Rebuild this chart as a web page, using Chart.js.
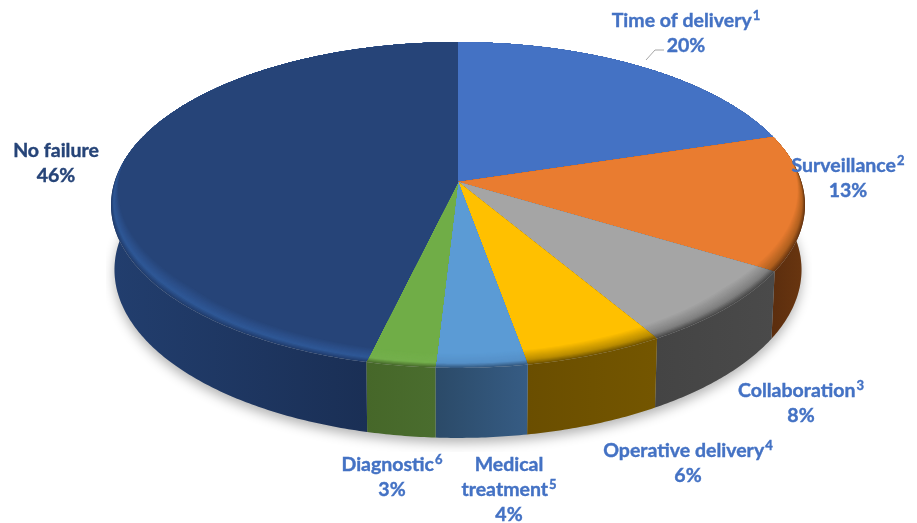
<!DOCTYPE html>
<html>
<head>
<meta charset="utf-8">
<script src="https://cdn.jsdelivr.net/npm/chart.js@4"></script>
<style>
  html, body { margin: 0; padding: 0; background: #fff; }
  canvas { display: block; }
</style>
</head>
<body>
<canvas id="pieChart" width="917" height="523"></canvas>
<script>
const categories = ['Time of delivery', 'Surveillance', 'Collaboration', 'Operative delivery', 'Medical treatment', 'Diagnostic', 'No failure'];
const shares = [20.25, 13.45, 7.8, 5.7, 3.7, 2.8, 46.3];
const noteMarks = ['1', '2', '3', '4', '5', '6', ''];

const faceColors = ['#4472c4', '#e97c30', '#a5a5a5', '#ffc000', '#5b9bd5', '#70ad47', '#264478'];
const rimColors = ['#3a62a8', '#b0601f', '#7f7f7f', '#b98c00', '#5590c8', '#74b04c', '#2f5897'];
const wallStart = ['#2a4578', '#6a3610', '#4a4a4a', '#745600', '#365c84', '#4a6d2e', '#223e6e'];
const wallEnd = ['#2a4578', '#5c2e0e', '#444444', '#6a4e00', '#2b4a68', '#466729', '#1a2f55'];

// centre x, first line y, line colour
const labelSpots = [
  { x: 686, y: 21, color: '#4472c4' },
  { x: 848, y: 166, color: '#4472c4' },
  { x: 801, y: 391, color: '#4472c4' },
  { x: 688, y: 451, color: '#4472c4' },
  { x: 509, y: 465, color: '#4472c4', wrap: true },
  { x: 392, y: 465, color: '#4472c4' },
  { x: 56, y: 151, color: '#264478' }
];

const labelFont = 'bold 19.5px Lato';
const noteFont = 'bold 13px Lato';
const lineGap = 25;

// fitted perspective of the tilted disc
const tilt = -0.141;
const spanX = 343.5;
const spanY = 159.7;

function project(arc, angle, r) {
  const u = Math.cos(angle) * r;
  const v = Math.sin(angle) * r;
  const d = 1 + tilt * v;
  return {
    x: arc.x + (spanX * u) / d,
    y: arc.y + (spanY * v) / d
  };
}

function drop(arc, p, angle) {
  return {
    x: arc.x + (p.x - arc.x) * 0.99,
    y: p.y + 64 + 6 * Math.sin(angle)
  };
}

function samples(start, end) {
  const list = [];
  const n = Math.max(2, Math.ceil((end - start) / 0.01));
  for (let i = 0; i <= n; i++) list.push(start + ((end - start) * i) / n);
  return list;
}

function rimDepth(angle) {
  const f = (Math.sin(angle) + 0.15) / 0.8;
  return 0.068 * Math.min(1, Math.max(0.012, f));
}

function mix(a, b, t) {
  const pa = parseInt(a.slice(1), 16);
  const pb = parseInt(b.slice(1), 16);
  const ch = (s) => Math.round(((pa >> s) & 255) * (1 - t) + ((pb >> s) & 255) * t);
  return 'rgb(' + ch(16) + ',' + ch(8) + ',' + ch(0) + ')';
}

const disc3d = {
  id: 'disc3d',
  beforeDatasetsDraw(chart) {
    const ctx = chart.ctx;
    const arcs = chart.getDatasetMeta(0).data;
    const first = arcs[0];

    // soft shadow under the base
    ctx.save();
    ctx.beginPath();
    ctx.rect(106, 225, 706, 227);
    ctx.clip();
    ctx.shadowColor = 'rgba(0,0,0,0.3)';
    ctx.shadowBlur = 12;
    ctx.shadowOffsetY = 5;
    ctx.fillStyle = '#bbbbbb';
    ctx.beginPath();
    samples(0, Math.PI * 2).forEach((a) => {
      const p = drop(first, project(first, a, 1), a);
      ctx.lineTo(p.x, p.y);
    });
    ctx.closePath();
    ctx.fill();
    ctx.restore();

    // side walls
    arcs.forEach((arc, i) => {
      const list = samples(arc.startAngle, arc.endAngle);
      const top = list.map((a) => project(arc, a, 1));
      const bottom = list.map((a, k) => drop(arc, top[k], a));
      const xs = top.map((p) => p.x);
      const grad = ctx.createLinearGradient(Math.min(...xs), 0, i === 6 ? first.x - 91 : Math.max(...xs), 0);
      grad.addColorStop(0, i === 6 ? wallStart[i] : wallEnd[i]);
      grad.addColorStop(1, i === 6 ? wallEnd[i] : wallStart[i]);
      ctx.fillStyle = grad;
      ctx.beginPath();
      top.forEach((p) => ctx.lineTo(p.x, p.y));
      bottom.reverse().forEach((p) => ctx.lineTo(p.x, p.y));
      ctx.closePath();
      ctx.fill();
    });

    // top face, bevel painted from the outside in
    const steps = 14;
    arcs.forEach((arc, i) => {
      const list = samples(arc.startAngle, arc.endAngle);
      for (let s = 0; s <= steps; s++) {
        const t = s / steps;
        let color;
        if (t < 0.3) color = mix(wallStart[i], rimColors[i], t / 0.3);
        else color = mix(rimColors[i], faceColors[i], (t - 0.3) / 0.7);
        ctx.fillStyle = color;
        ctx.beginPath();
        ctx.moveTo(arc.x, arc.y);
        list.forEach((a) => {
          const p = project(arc, a, 1 - rimDepth(a) * t);
          ctx.lineTo(p.x, p.y);
        });
        ctx.closePath();
        ctx.fill();
      }
    });
    return false;
  },
  afterDraw(chart) {
    const ctx = chart.ctx;
    ctx.save();

    // leader of the first label
    ctx.strokeStyle = '#a6a6a6';
    ctx.lineWidth = 1;
    ctx.beginPath();
    ctx.moveTo(646, 60);
    ctx.lineTo(655, 50);
    ctx.lineTo(664, 50);
    ctx.stroke();

    ctx.textBaseline = 'middle';
    ctx.textAlign = 'left';
    ctx.lineWidth = 0.4;
    const put = (text, x, y) => {
      ctx.fillText(text, x, y);
      ctx.strokeText(text, x, y);
    };
    categories.forEach((name, i) => {
      const spot = labelSpots[i];
      const lines = spot.wrap ? name.split(' ') : [name];
      ctx.fillStyle = spot.color;
      ctx.strokeStyle = spot.color;
      lines.forEach((line, k) => {
        const mark = k === lines.length - 1 ? noteMarks[i] : '';
        ctx.font = labelFont;
        const w = ctx.measureText(line).width;
        ctx.font = noteFont;
        const mw = mark ? ctx.measureText(mark).width + 1 : 0;
        const left = spot.x - (w + mw) / 2;
        ctx.font = labelFont;
        put(line, left, spot.y + k * lineGap);
        if (mark) {
          ctx.font = noteFont;
          put(mark, left + w + 1, spot.y + k * lineGap - 5);
        }
      });
      ctx.font = labelFont;
      ctx.textAlign = 'center';
      put(Math.round(shares[i]) + '%', spot.x, spot.y + lines.length * lineGap);
      ctx.textAlign = 'left';
    });
    ctx.restore();
  }
};

new Chart(document.getElementById('pieChart'), {
  type: 'pie',
  data: {
    labels: categories,
    datasets: [{
      data: shares,
      backgroundColor: faceColors,
      borderWidth: 0
    }]
  },
  options: {
    responsive: false,
    animation: false,
    layout: { padding: { bottom: 159, right: 1 } },
    plugins: {
      legend: { display: false },
      tooltip: { enabled: false }
    }
  },
  plugins: [disc3d]
});
</script>
</body>
</html>
